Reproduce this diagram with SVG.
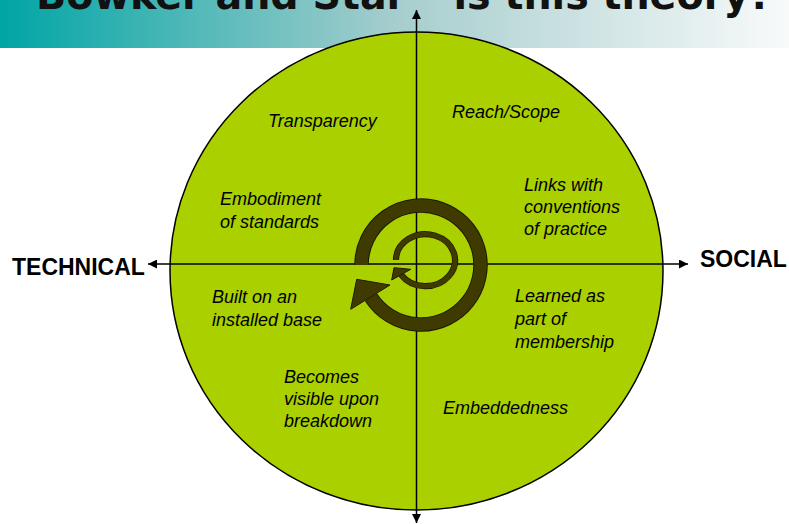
<svg xmlns="http://www.w3.org/2000/svg" width="789" height="524" viewBox="0 0 789 524">
<defs>
<linearGradient id="hdr" x1="0" y1="0" x2="1" y2="0">
<stop offset="0" stop-color="#00a5a5"/>
<stop offset="0.5" stop-color="#a6cdcd"/>
<stop offset="1" stop-color="#f8fafa"/>
</linearGradient>
<marker id="ah" viewBox="0 0 10 10" refX="10" refY="5" markerWidth="9" markerHeight="9" markerUnits="userSpaceOnUse" orient="auto">
<path d="M0,0 L10,5 L0,10 Z" fill="#000"/>
</marker>
<style>
.lbl{font-family:"Liberation Sans",Arial,sans-serif;font-size:18px;font-style:italic;fill:#000}
.axl{font-family:"Liberation Sans",Arial,sans-serif;font-size:23px;font-weight:bold;fill:#000}
.ttl{font-family:"DejaVu Sans",Verdana,sans-serif;font-size:40px;font-weight:bold;fill:#111}
.axis{stroke:#000;stroke-width:1.5;fill:none}
.cyc{fill:none;stroke:#3f3b00}
.cycEdge{fill:none;stroke:#1c1a00}
.head{fill:#3f3b00;stroke:#1c1a00;stroke-width:1}
</style>
</defs>
<rect width="789" height="524" fill="#fff"/>
<g id="header">
<rect x="0" y="0" width="789" height="48" fill="url(#hdr)"/>
<text class="ttl" x="36" y="9" textLength="736" lengthAdjust="spacingAndGlyphs">Bowker and Star – is this theory?</text>
</g>
<g id="circle">
<ellipse cx="416.5" cy="271" rx="246.5" ry="239" fill="#aad000" stroke="#000" stroke-width="1.5"/>
</g>
<g id="connectors">
<line class="axis" x1="416.5" y1="264" x2="148" y2="264" marker-end="url(#ah)"/>
<line class="axis" x1="416.5" y1="264" x2="688" y2="264" marker-end="url(#ah)"/>
<line class="axis" x1="416.5" y1="264" x2="416.5" y2="10" marker-end="url(#ah)"/>
<line class="axis" x1="416.5" y1="264" x2="416.5" y2="523" marker-end="url(#ah)"/>
</g>
<g id="cycle">
<path class="cycEdge" stroke-width="14.5" d="M 361.5 265 A 59.5 59.5 0 1 1 370.9 297.1"/>
<path class="cyc" stroke-width="12.5" d="M 361.5 265 A 59.5 59.5 0 1 1 370.9 297.1"/>
<polygon class="head" points="350.7,309.3 390,285 356.7,279.3"/>
<path class="cycEdge" stroke-width="6.2" d="M 396 260 A 29.5 26 0 1 1 401 274.7"/>
<path class="cyc" stroke-width="4.8" d="M 396 260 A 29.5 26 0 1 1 401 274.7"/>
<polygon class="head" points="391.7,280 410.7,269.3 394,267.7"/>
</g>
<g id="technical"><text class="axl" x="12" y="275">TECHNICAL</text></g>
<g id="social"><text class="axl" x="700" y="267">SOCIAL</text></g>
<g id="transparency"><text class="lbl" x="268" y="127">Transparency</text></g>
<g id="reach-scope"><text class="lbl" x="452" y="118">Reach/Scope</text></g>
<g id="embodiment"><text class="lbl" x="220" y="205">Embodiment</text><text class="lbl" x="220" y="228">of standards</text></g>
<g id="links"><text class="lbl" x="524" y="191">Links with</text><text class="lbl" x="524" y="213">conventions</text><text class="lbl" x="524" y="235">of practice</text></g>
<g id="installed-base"><text class="lbl" x="212" y="303">Built on an</text><text class="lbl" x="212" y="326">installed base</text></g>
<g id="learned"><text class="lbl" x="515" y="302">Learned as</text><text class="lbl" x="515" y="325">part of</text><text class="lbl" x="515" y="348">membership</text></g>
<g id="breakdown"><text class="lbl" x="284" y="383">Becomes</text><text class="lbl" x="284" y="405">visible upon</text><text class="lbl" x="284" y="427">breakdown</text></g>
<g id="embeddedness"><text class="lbl" x="443" y="414">Embeddedness</text></g>
</svg>
